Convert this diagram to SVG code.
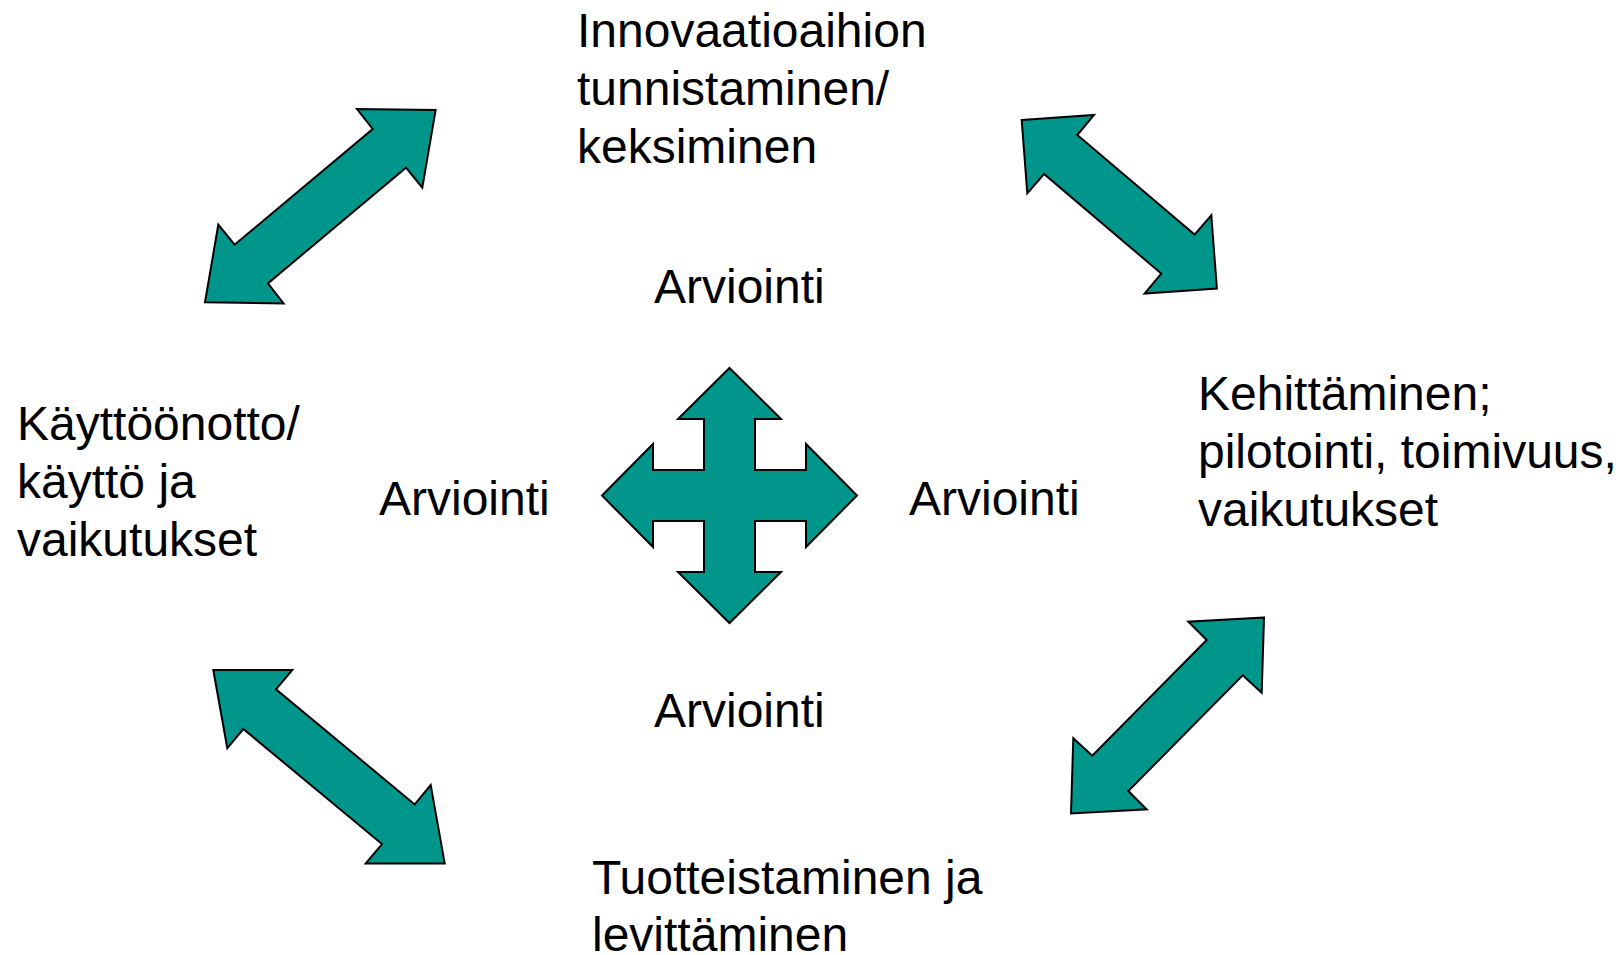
<svg xmlns="http://www.w3.org/2000/svg" width="1623" height="955" viewBox="0 0 1623 955">
<style>
.lbl{font-family:"Liberation Sans",Arial,sans-serif;font-size:48px;fill:#000}
.arr{fill:#00968C;stroke:#000;stroke-width:2;stroke-linejoin:miter}
</style>
<rect width="1623" height="955" fill="#fff"/>
<g id="connectors">
<polygon id="arrow-tl" class="arr" points="435.6,110.1 422.3,187.7 406,167.7 267.9,283.4 283.6,303.4 205,302.3 218.3,224.7 234.6,244.7 372.7,129 357,109"/>
<polygon id="arrow-tr" class="arr" points="1021.7,120 1094,115 1077.3,135 1194.6,234.6 1211.3,215.3 1216.9,288.6 1144.6,293.6 1161.3,273.6 1044,174 1027.3,193.3"/>
<polygon id="arrow-bl" class="arr" points="213.3,670 292.3,670 276,689.3 414.7,804.4 430.7,785.1 444.7,863.4 365.7,863.4 382,844.1 243.3,729 227.3,748.3"/>
<polygon id="arrow-br" class="arr" points="1264,617.5 1188.3,621.7 1206.7,640 1092.3,755.7 1073.3,738.3 1071,813.5 1146.7,809.3 1128.3,791 1242.7,675.3 1261.7,692.7"/>
</g>
<g id="cross">
<polygon class="arr" points="729.5,368 781,419 755,419 755,470 806,470 806,444 857,495.5 806,547 806,521 755,521 755,572 781,572 729.5,623 678,572 704,572 704,521 653,521 653,547 602,495.5 653,444 653,470 704,470 704,419 678,419"/>
</g>
<g id="node-innovaatio">
<text class="lbl" x="577" y="47">Innovaatioaihion</text>
<text class="lbl" x="577" y="105">tunnistaminen/</text>
<text class="lbl" x="577" y="163">keksiminen</text>
</g>
<g id="node-kehittaminen">
<text class="lbl" x="1198" y="410">Kehittäminen;</text>
<text class="lbl" x="1198" y="468">pilotointi, toimivuus,</text>
<text class="lbl" x="1198" y="526">vaikutukset</text>
</g>
<g id="node-tuotteistaminen">
<text class="lbl" x="592" y="894">Tuotteistaminen ja</text>
<text class="lbl" x="592" y="951">levittäminen</text>
</g>
<g id="node-kayttoonotto">
<text class="lbl" x="17" y="440">Käyttöönotto/</text>
<text class="lbl" x="17" y="498">käyttö ja</text>
<text class="lbl" x="17" y="556">vaikutukset</text>
</g>
<g id="arviointi-top"><text class="lbl" x="654" y="303">Arviointi</text></g>
<g id="arviointi-left"><text class="lbl" x="379" y="515">Arviointi</text></g>
<g id="arviointi-right"><text class="lbl" x="909" y="515">Arviointi</text></g>
<g id="arviointi-bottom"><text class="lbl" x="654" y="727">Arviointi</text></g>
</svg>
